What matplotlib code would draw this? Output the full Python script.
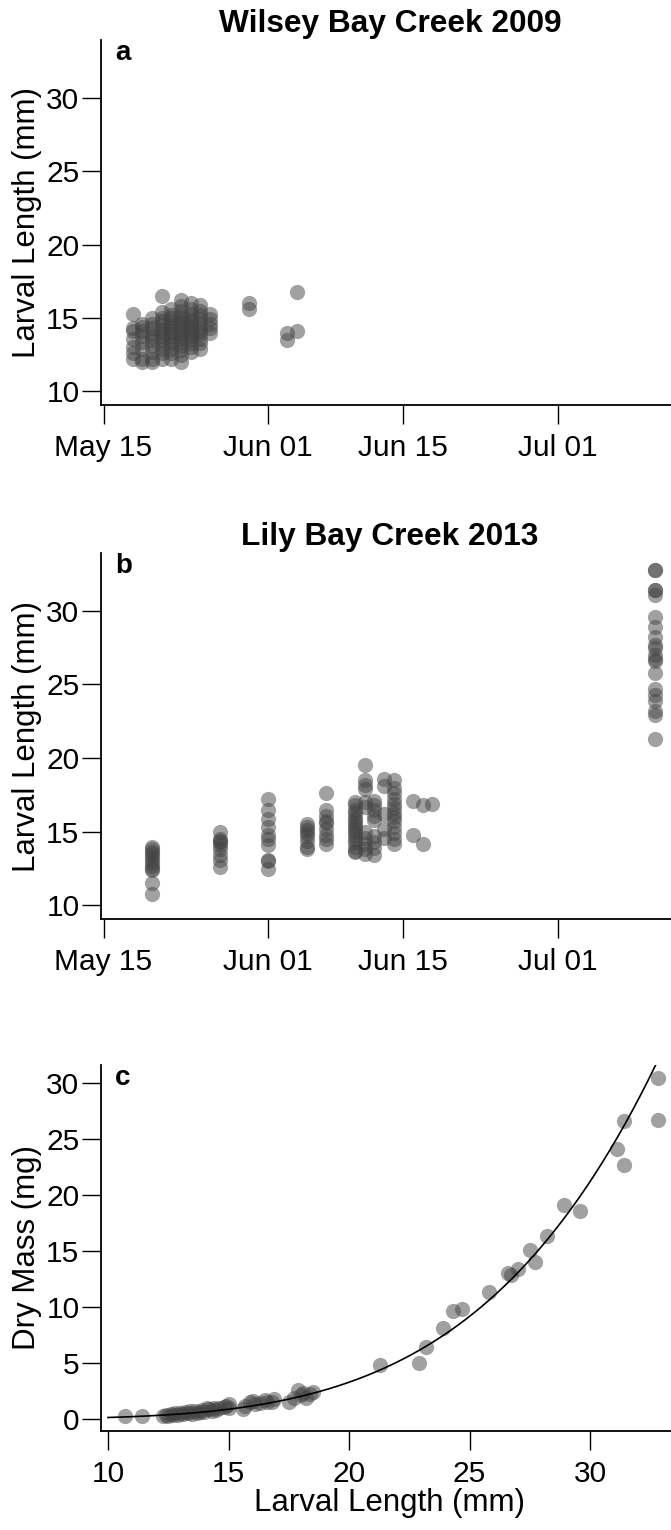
import matplotlib
matplotlib.use("Agg")
import matplotlib.pyplot as plt
import matplotlib.dates as mdates
import numpy as np
import pandas as pd

plt.rcParams["font.family"] = ["Liberation Sans", "DejaVu Sans"]

# ---- Wilsey Bay Creek 2009: sampling dates and larval lengths (mm) ----
wilsey_dates = ["2009-05-18", "2009-05-19", "2009-05-20", "2009-05-21", "2009-05-22",
                "2009-05-23", "2009-05-24", "2009-05-25", "2009-05-26", "2009-05-30",
                "2009-06-03", "2009-06-04"]
wilsey_lengths = [
    [15.3, 14.3, 14.1, 13.6, 13.0, 12.6, 12.2],
    [14.6, 14.4, 14.1, 13.8, 13.4, 12.9, 12.2, 12.0],
    [15.0, 14.6, 14.3, 14.0, 13.7, 13.5, 13.1, 12.7, 12.2, 12.0],
    [16.5, 15.4, 15.0, 14.8, 14.5, 14.2, 14.0, 13.8, 13.5, 13.2, 12.9, 12.6, 12.2],
    [15.6, 15.2, 15.0, 14.7, 14.5, 14.3, 14.1, 13.9, 13.7, 13.4, 13.2, 12.9, 12.6, 12.2],
    [16.2, 15.8, 15.5, 15.2, 15.0, 14.8, 14.6, 14.4, 14.2, 14.0, 13.8, 13.6, 13.4,
     13.1, 12.8, 12.5, 12.0],
    [16.0, 15.6, 15.3, 15.0, 14.8, 14.6, 14.4, 14.2, 14.0, 13.8, 13.6, 13.3, 13.0, 12.7],
    [15.9, 15.5, 15.2, 14.9, 14.6, 14.3, 14.1, 13.9, 13.6, 13.3, 12.9],
    [15.3, 14.9, 14.6, 14.3, 14.0],
    [16.0, 15.6],
    [14.0, 13.5],
    [14.1, 16.8],
]

# ---- Lily Bay Creek 2013: sampling dates and larval lengths (mm) ----
lily_dates = ["2013-05-20", "2013-05-27", "2013-06-01", "2013-06-05", "2013-06-07",
              "2013-06-10", "2013-06-11", "2013-06-12", "2013-06-13", "2013-06-14",
              "2013-06-16", "2013-06-17", "2013-06-18", "2013-07-11"]
lily_lengths = [
    [14.0, 13.8, 13.6, 13.5, 13.3, 13.1, 12.9, 12.7, 12.5, 12.4, 11.5, 10.8],
    [15.0, 14.5, 14.4, 14.3, 14.1, 13.8, 13.4, 13.1, 12.6],
    [17.2, 16.5, 15.9, 15.3, 14.8, 14.5, 14.1, 13.1, 13.0, 12.5],
    [15.5, 15.3, 15.1, 14.9, 14.7, 14.4, 14.0, 13.8],
    [17.6, 16.5, 16.1, 15.7, 15.6, 15.2, 14.8, 14.5, 14.2],
    [17.0, 16.8, 16.5, 16.3, 16.0, 15.8, 15.6, 15.4, 15.2, 15.0, 14.8, 14.5, 14.3,
     14.0, 13.7, 13.6],
    [19.5, 18.5, 18.2, 17.9, 17.0, 16.7, 15.0, 14.6, 14.2, 13.8, 13.5],
    [17.1, 16.8, 16.5, 16.1, 15.8, 14.7, 14.3, 13.9, 13.4],
    [18.6, 18.1, 16.2, 15.2, 14.6],
    [18.5, 18.0, 17.6, 17.2, 16.9, 16.6, 16.3, 16.0, 15.7, 15.3, 14.9, 14.5, 14.2],
    [17.1, 14.8],
    [16.8, 14.2],
    [16.9],
    [32.8, 32.8, 31.4, 31.4, 31.1, 29.6, 28.9, 28.2, 27.7, 27.5, 27.0, 26.7, 26.6,
     25.8, 24.7, 24.3, 23.9, 23.2, 22.9, 21.3],
]

# ---- Length vs dry mass ----
mass_length = [10.7, 11.4, 12.3, 12.4, 12.5, 12.6, 12.7, 12.8, 12.9, 13.0, 13.1, 13.2,
               13.3, 13.4, 13.5, 13.6, 13.7, 13.8, 13.9, 14.0, 14.1, 14.2, 14.3, 14.4,
               14.5, 14.6, 14.8, 14.9, 15.0, 15.0, 15.6, 15.7, 15.9, 16.0, 16.1, 16.3,
               16.5, 16.6, 16.8, 16.9, 17.5, 17.7, 17.9, 18.0, 18.1, 18.2, 18.4, 18.5,
               21.3, 22.9, 23.2, 23.9, 24.3, 24.7, 25.8, 26.6, 26.7, 27.0, 27.5, 27.7,
               28.2, 28.9, 29.6, 31.1, 31.4, 31.4, 32.8, 32.8]
dry_mass = [0.25, 0.30, 0.30, 0.40, 0.25, 0.45, 0.35, 0.50, 0.40, 0.55, 0.45, 0.60,
            0.50, 0.70, 0.45, 0.75, 0.55, 0.60, 0.80, 0.65, 1.00, 0.85, 0.70, 0.95,
            0.80, 1.00, 1.10, 1.20, 0.95, 1.30, 0.90, 1.20, 1.50, 1.60, 1.30, 1.45,
            1.70, 1.50, 1.55, 1.80, 1.50, 1.90, 2.60, 2.10, 2.30, 1.90, 2.20, 2.40,
            4.85, 5.00, 6.40, 8.10, 9.65, 9.80, 11.30, 13.05, 12.85, 13.40, 15.05, 14.00,
            16.30, 19.10, 18.60, 24.10, 26.60, 22.70, 30.40, 26.70]

# power-law fit: mass = fit_a * length ** fit_b
fit_a = 3.4e-6
fit_b = 4.6

date_ticks = ["05-15", "06-01", "06-15", "07-01"]
date_tick_labels = ["May 15", "Jun 01", "Jun 15", "Jul 01"]
length_ticks = [10, 15, 20, 25, 30]
mass_ticks = [0, 5, 10, 15, 20, 25, 30]
length_x_ticks = [10, 15, 20, 25, 30]

W, H = 671, 1530
fig = plt.figure(figsize=(W / 100, H / 100), dpi=100)

POINT_COLOR = "#444444"
TICK_FS = 21.5
LABEL_FS = 22.5


def make_axes(top_px, bottom_px):
    ax = fig.add_axes([101 / W, 1 - bottom_px / H, 578 / W, (bottom_px - top_px) / H])
    for side in ("top", "right"):
        ax.spines[side].set_visible(False)
    for side in ("left", "bottom"):
        ax.spines[side].set_linewidth(1.3)
    ax.tick_params(axis="both", direction="out", length=14, width=1.0,
                   labelsize=TICK_FS, color="black")
    ax.tick_params(axis="y", pad=1.5)
    ax.tick_params(axis="x", pad=7)
    return ax


def panel_letter(ax, letter):
    ax.text(0.024, 0.945, letter, transform=ax.transAxes, fontsize=20,
            fontweight="bold", ha="left", va="baseline")


def date_panel(ax, year, dates, lengths, title, letter):
    xs, ys = [], []
    for d, vals in zip(dates, lengths):
        xnum = mdates.date2num(pd.Timestamp(d))
        xs.extend([xnum] * len(vals))
        ys.extend(vals)
    ax.scatter(xs, ys, s=120, c=POINT_COLOR, alpha=0.5, linewidths=0, zorder=3)
    start = mdates.date2num(pd.Timestamp(f"{year}-05-15"))
    ax.set_xlim(start - 0.26, start + 59.5)
    ax.set_ylim(9.08, 33.92)
    ax.set_xticks([mdates.date2num(pd.Timestamp(f"{year}-{t}")) for t in date_ticks])
    ax.set_xticklabels(date_tick_labels)
    ax.set_yticks(length_ticks)
    ax.set_ylabel("Larval Length (mm)", fontsize=LABEL_FS)
    ax.yaxis.set_label_coords(-0.102, 0.5)
    ax.set_title(title, fontsize=22.8, fontweight="bold", pad=6)
    panel_letter(ax, letter)


ax_a = make_axes(40, 405)
date_panel(ax_a, 2009, wilsey_dates, wilsey_lengths, "Wilsey Bay Creek 2009", "a")

ax_b = make_axes(553, 919)
date_panel(ax_b, 2013, lily_dates, lily_lengths, "Lily Bay Creek 2013", "b")

ax_c = make_axes(1065, 1431)
ax_c.scatter(mass_length, dry_mass, s=120, c=POINT_COLOR, alpha=0.5, linewidths=0,
             zorder=3)
curve_x = np.linspace(10, 33.6, 300)
ax_c.plot(curve_x, fit_a * curve_x ** fit_b, color="black", lw=1.2, zorder=4)
ax_c.set_xlim(9.71, 33.69)
ax_c.set_ylim(-1.07, 31.6)
ax_c.set_xticks(length_x_ticks)
ax_c.set_yticks(mass_ticks)
ax_c.set_ylabel("Dry Mass (mg)", fontsize=LABEL_FS)
ax_c.yaxis.set_label_coords(-0.102, 0.5)
ax_c.set_xlabel("Larval Length (mm)", fontsize=LABEL_FS)
ax_c.xaxis.set_label_coords(0.5, -0.155)
panel_letter(ax_c, "c")

fig.savefig("out.png", dpi=100)
